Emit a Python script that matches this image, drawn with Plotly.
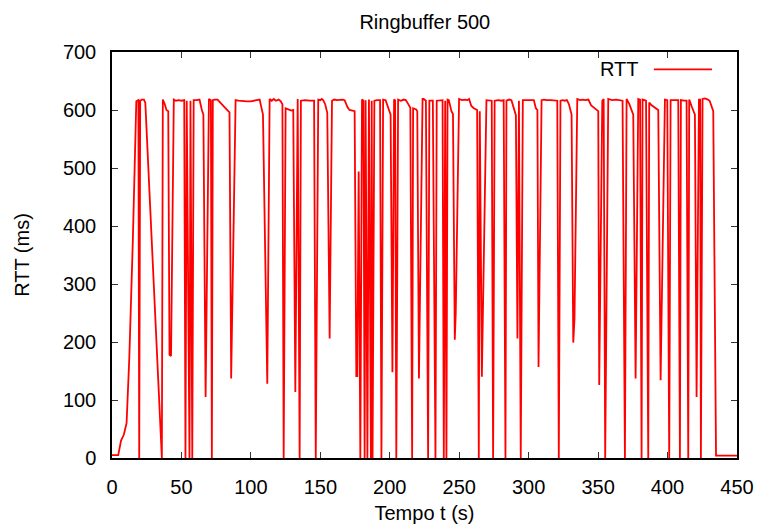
import plotly.graph_objects as go

# Time (s) and RTT (ms) samples
time_s = [
    0, 4.5, 6.5, 8.5, 10.5, 12.5, 15, 17.5, 19, 19.6, 20.3, 21.5, 23, 24, 35.9, 36.6, 38, 39.2, 40.5,
    41.4, 42.5, 44.5, 46, 48, 50, 52, 52.9, 53.8, 55.8, 56.5, 57.8, 58.8, 61, 63, 64.7, 65.8, 67.4,
    69.8, 71.2, 71.9, 72.6, 74, 76, 77.5, 79, 81, 83.4, 84.6, 85.8, 89, 91, 94, 97, 100, 103, 106.3,
    107.5, 108.7, 111.8, 113.5, 115, 116.5, 118, 120, 121.5, 122.7, 123.6, 125, 127, 129.1, 130.5,
    132, 133.7, 135.1, 136, 139, 142, 145.5, 146.7, 148.5, 150, 151, 152, 153.5, 155, 156.7, 158.4,
    160, 162, 164, 166, 167.5, 169.5, 171, 174.7, 175.9, 176.6, 177.6, 178.8, 180, 181, 181.9, 182.6,
    183.9, 185, 186.4, 187, 187.6, 188.9, 191, 193, 194, 195.2, 197, 199, 200.6, 201.9, 203.1, 203.8,
    204.7, 206, 208, 210, 211.5, 213.1, 214.8, 216.1, 216.8, 219, 219.8, 221, 223.6, 224.4, 226,
    227.6, 228.5, 231, 232.9, 233.8, 236, 238, 238.9, 239.9, 240.8, 241.6, 242.5, 244.4, 245.5,
    246.8, 247.5, 249.9, 252, 254, 256, 257.1, 258.7, 260.5, 262.9, 264.1, 264.8, 266.3, 269.6,
    271.5, 273.4, 274.4, 275.5, 278, 280.5, 282, 283.3, 284, 286, 287.6, 290, 290.8, 291.9, 293,
    294.3, 295.8, 298, 300, 302, 303.7, 305.2, 306.3, 307.1, 309.3, 311, 313, 316, 318, 320.6, 321.7,
    322.9, 324.5, 326, 327.5, 329, 330.9, 332.1, 333, 335, 337, 339, 341, 343, 345, 347.5, 350.1,
    350.8, 353, 354, 355.1, 357.3, 360, 363, 365, 367.6, 369.3, 370.5, 372.5, 374.1, 375.3, 377,
    378.9, 380.2, 381.3, 382, 384.5, 386.1, 386.8, 388.5, 391, 393.3, 395, 398.1, 399.8, 401.2,
    402.2, 405, 407.7, 408.9, 409.6, 412, 413.7, 414.9, 415.6, 417.4, 419.7, 420.9, 422.6, 423.5,
    424, 425.2, 427, 429, 430.3, 432.9, 434.9, 440, 450,
]
rtt_ms = [
    5, 5, 30, 40, 60, 175, 375, 615, 617, 0, 616, 618, 618, 612, 0, 618, 610, 600, 598,
    178, 176, 618, 616, 617, 616, 617, 0, 616, 0, 616, 0, 617, 617, 618, 600, 592, 105,
    619, 617, 0, 617, 618, 618, 613, 610, 605, 600, 596, 137, 617, 616, 615, 615, 615, 617, 618,
    605, 592, 128, 619, 616, 619, 616, 618, 615, 610, 0, 603, 601, 599, 600,
    114, 619, 0, 616, 617, 616, 616, 0, 618, 617, 619, 617, 610, 595, 206, 616,
    618, 617, 618, 618, 617, 605, 600, 598, 141, 141, 494, 0, 618, 616, 0, 617,
    0, 618, 0, 616, 0, 616, 617, 617, 0, 618, 617, 604, 592, 148, 618, 617,
    0, 618, 616, 618, 617, 611, 604, 0, 603, 601, 598, 137, 619, 619, 616,
    0, 616, 616, 0, 616, 617, 617, 0, 616, 0, 618, 617, 598, 593,
    204, 250, 619, 617, 618, 617, 619, 607, 603, 600, 0, 598, 140, 617,
    617, 616, 0, 616, 617, 616, 617, 0, 616, 618, 617, 597, 591, 206, 616,
    0, 617, 617, 617, 617, 617, 603, 600, 157, 617, 618, 617, 617, 616, 616, 0,
    616, 617, 616, 617, 610, 592, 199, 240, 619, 617, 618, 617, 618, 608, 603, 598,
    126, 616, 619, 0, 619, 617, 618, 617, 616, 0, 619, 610, 600, 592, 137,
    619, 618, 0, 618, 616, 0, 613, 608, 604, 600, 134, 618, 617, 0,
    617, 617, 617, 0, 617, 616, 616, 0, 618, 606, 592, 105, 618, 618,
    0, 619, 620, 618, 616, 598, 4, 4, 4,
]

title_text = "Ringbuffer 500"
x_title = "Tempo t (s)"
y_title = "RTT (ms)"
series_name = "RTT"
x_ticks = [0, 50, 100, 150, 200, 250, 300, 350, 400, 450]
y_ticks = [0, 100, 200, 300, 400, 500, 600, 700]

FONT = "Liberation Sans, Arial, Helvetica, sans-serif"
RED = "#ff0000"
AX = "#000000"

fig = go.Figure()
fig.add_trace(go.Scatter(x=time_s, y=rtt_ms, mode="lines", name=series_name,
                         line=dict(color=RED, width=1.8), showlegend=False))

axis_common = dict(
    showgrid=False, zeroline=False, showline=True, linecolor=AX, linewidth=1.5,
    mirror="allticks", ticks="inside", ticklen=6, tickwidth=1, tickcolor="#333333",
    tickfont=dict(family=FONT, size=20, color="#000000"),
)
fig.update_xaxes(range=[0, 450], tickvals=x_ticks, ticklabelstandoff=10,
                 title=dict(text=x_title, font=dict(family=FONT, size=20, color="#000000"), standoff=9),
                 **axis_common)
fig.update_yaxes(range=[0, 700], tickvals=y_ticks, ticklabelstandoff=10,
                 title=dict(text=y_title, font=dict(family=FONT, size=20, color="#000000"), standoff=28),
                 **axis_common)

# gnuplot-style key: label on the left, line sample on the right
fig.add_annotation(xref="paper", yref="paper", x=0.847, y=0.957, text=series_name,
                   showarrow=False, xanchor="right", yanchor="middle",
                   font=dict(family=FONT, size=20, color="#000000"))
fig.add_shape(type="line", xref="paper", yref="paper", x0=0.867, x1=0.960, y0=0.957, y1=0.957,
              line=dict(color=RED, width=1.8))

fig.update_layout(
    width=760, height=524,
    margin=dict(l=112, r=23, t=52, b=66, autoexpand=False),
    paper_bgcolor="white", plot_bgcolor="white",
    title=dict(text=title_text, x=0.559, xanchor="center", y=0.958, yanchor="middle",
               font=dict(family=FONT, size=20, color="#000000")),
)

fig.write_html("out.html", config={"displayModeBar": False},
               post_script="document.body.style.margin='0';document.body.style.padding='0';")
